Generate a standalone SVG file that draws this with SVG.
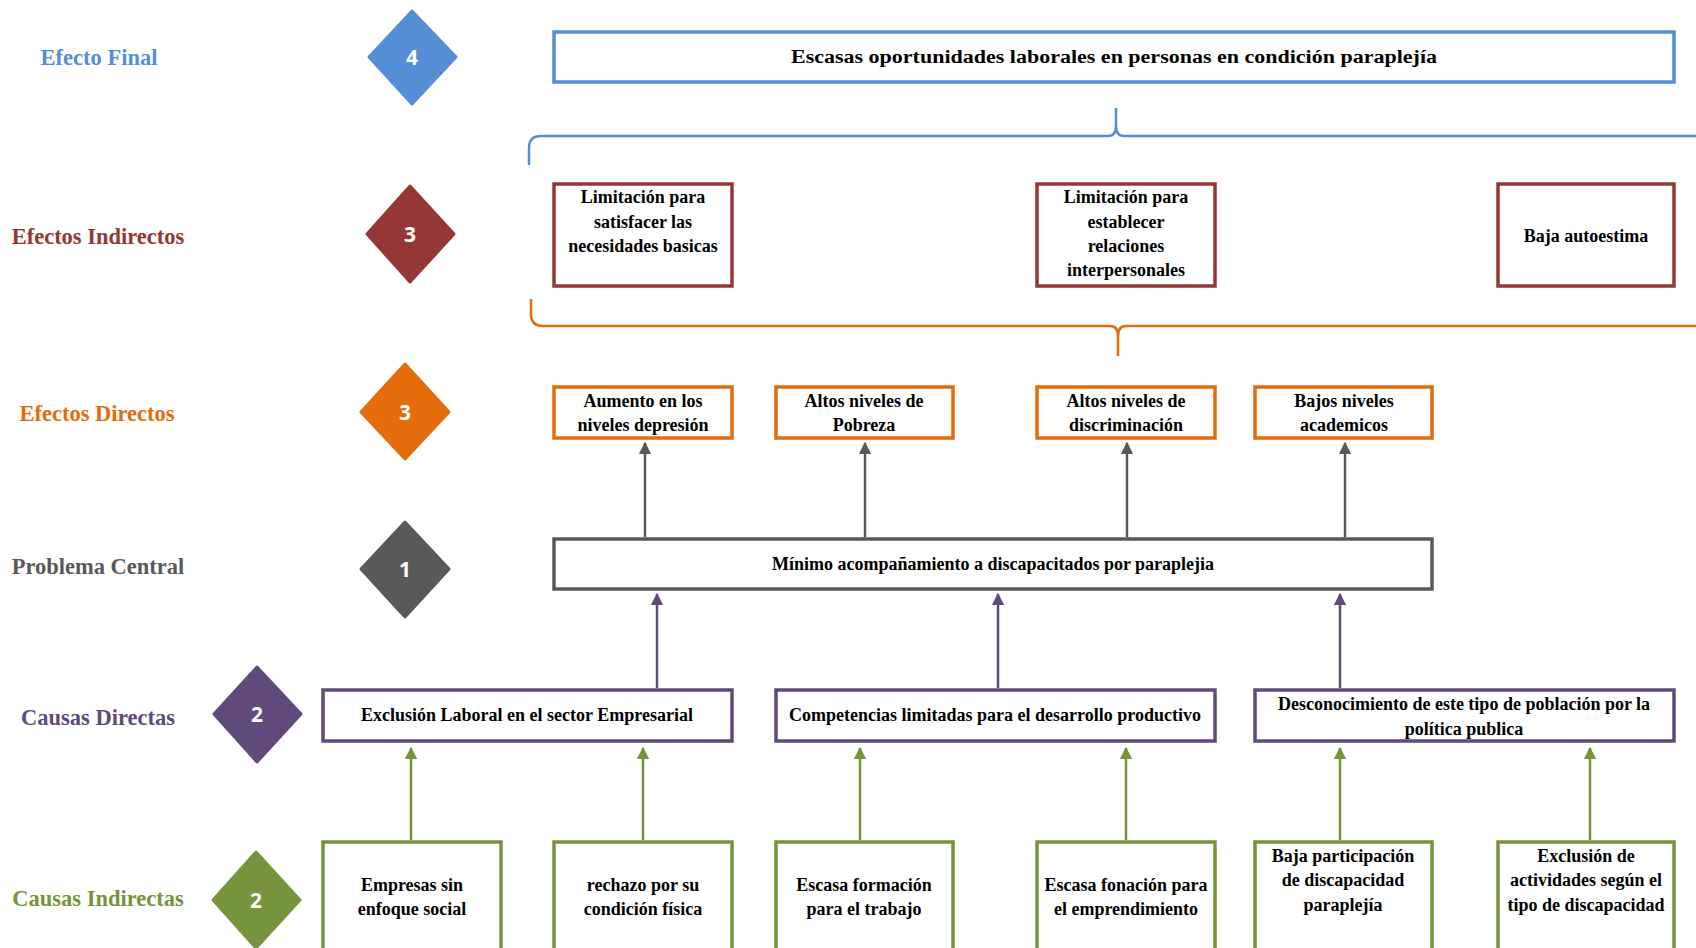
<svg xmlns="http://www.w3.org/2000/svg" width="1696" height="948" viewBox="0 0 1696 948">
<defs>
<marker id="mg" viewBox="0 0 10 10" refX="9" refY="5" markerWidth="5" markerHeight="5" orient="auto"><path d="M0,0 L10,5 L0,10 z" fill="#595959"/></marker>
<marker id="mp" viewBox="0 0 10 10" refX="9" refY="5" markerWidth="5" markerHeight="5" orient="auto"><path d="M0,0 L10,5 L0,10 z" fill="#604a7b"/></marker>
<marker id="mgr" viewBox="0 0 10 10" refX="9" refY="5" markerWidth="5" markerHeight="5" orient="auto"><path d="M0,0 L10,5 L0,10 z" fill="#77933c"/></marker>
</defs>
<style>
.lbl{font-family:"Liberation Serif","Times New Roman",serif;font-weight:bold;font-size:22.5px;text-anchor:middle;dominant-baseline:central}
.num{font-family:"Open Sans","DejaVu Sans",sans-serif;font-weight:bold;font-size:21px;fill:#fff;text-anchor:middle;dominant-baseline:central}
.t{font-family:"Liberation Serif","Times New Roman",serif;font-weight:bold;font-size:18px;fill:#000;text-anchor:middle;dominant-baseline:central}
.box{fill:#fff;stroke-width:3.5}
.blue{stroke:#558ed5}.red{stroke:#953735}.org{stroke:#e46c0a}.gry{stroke:#595959}.pur{stroke:#604a7b}.grn{stroke:#77933c}
.ag{stroke:#595959;stroke-width:2.5;fill:none;marker-end:url(#mg)}
.ap{stroke:#604a7b;stroke-width:2.5;fill:none;marker-end:url(#mp)}
.agr{stroke:#77933c;stroke-width:2.5;fill:none;marker-end:url(#mgr)}
</style>
<rect width="1696" height="948" fill="#fff"/>

<g id="labels">
<text class="lbl" x="99" y="57" fill="#558ed5">Efecto Final</text>
<text class="lbl" x="98" y="236" fill="#953735">Efectos Indirectos</text>
<text class="lbl" x="97" y="413" fill="#e46c0a">Efectos Directos</text>
<text class="lbl" x="98" y="566" fill="#595959">Problema Central</text>
<text class="lbl" x="98" y="717" fill="#604a7b">Causas Directas</text>
<text class="lbl" x="98" y="898" fill="#77933c">Causas Indirectas</text>
</g>

<g id="diamonds" stroke-linejoin="round">
<g id="d4"><polygon points="412,11 456,57 412,104 369,57" fill="#558ed5" stroke="#558ed5" stroke-width="3"/><text class="num" x="412" y="57">4</text></g>
<g id="d3a"><polygon points="410,186 454,234 410,282 367,234" fill="#953735" stroke="#953735" stroke-width="3"/><text class="num" x="410" y="234">3</text></g>
<g id="d3b"><polygon points="405,364 449,412 405,459 361,412" fill="#e46c0a" stroke="#e46c0a" stroke-width="3"/><text class="num" x="405" y="412">3</text></g>
<g id="d1"><polygon points="405,522 449,569 405,617 361,569" fill="#595959" stroke="#595959" stroke-width="3"/><text class="num" x="405" y="569">1</text></g>
<g id="d2a"><polygon points="257,667 301,714 257,762 214,714" fill="#604a7b" stroke="#604a7b" stroke-width="3"/><text class="num" x="257" y="714">2</text></g>
<g id="d2b"><polygon points="256,852 300,900 256,948 213,900" fill="#77933c" stroke="#77933c" stroke-width="3"/><text class="num" x="256" y="900">2</text></g>
</g>

<g id="connectors">
<path d="M529,165 L529,148 Q529,136 541,136 L1108,136 Q1116,136 1116,126 L1116,108 M1116,126 Q1116,136 1124,136 L1696,136" fill="none" stroke="#558ed5" stroke-width="2.5"/>
<path d="M531,299 L531,314 Q531,326 543,326 L1110,326 Q1118,326 1118,336 L1118,356 M1118,336 Q1118,326 1126,326 L1696,326" fill="none" stroke="#e46c0a" stroke-width="2.5"/>
<line class="ag" x1="645" y1="537" x2="645" y2="443"/>
<line class="ag" x1="865" y1="537" x2="865" y2="443"/>
<line class="ag" x1="1127" y1="537" x2="1127" y2="443"/>
<line class="ag" x1="1345" y1="537" x2="1345" y2="443"/>
<line class="ap" x1="657" y1="688" x2="657" y2="594"/>
<line class="ap" x1="998" y1="688" x2="998" y2="594"/>
<line class="ap" x1="1340" y1="688" x2="1340" y2="594"/>
<line class="agr" x1="411" y1="840" x2="411" y2="748"/>
<line class="agr" x1="643" y1="840" x2="643" y2="748"/>
<line class="agr" x1="860" y1="840" x2="860" y2="748"/>
<line class="agr" x1="1126" y1="840" x2="1126" y2="748"/>
<line class="agr" x1="1340" y1="840" x2="1340" y2="748"/>
<line class="agr" x1="1590" y1="840" x2="1590" y2="748"/>
</g>

<g id="final"><rect class="box blue" x="554" y="32" width="1120" height="50"/><text class="t" x="1114" y="57" font-size="23" textLength="646" lengthAdjust="spacingAndGlyphs">Escasas oportunidades laborales en personas en condición paraplejía</text></g>

<g id="ei1"><rect class="box red" x="554" y="184" width="178" height="102"/>
<text class="t" x="643" y="197">Limitación para</text><text class="t" x="643" y="222">satisfacer las</text><text class="t" x="643" y="246">necesidades basicas</text></g>
<g id="ei2"><rect class="box red" x="1037" y="184" width="178" height="102"/>
<text class="t" x="1126" y="197">Limitación para</text><text class="t" x="1126" y="222">establecer</text><text class="t" x="1126" y="246">relaciones</text><text class="t" x="1126" y="270">interpersonales</text></g>
<g id="ei3"><rect class="box red" x="1498" y="184" width="176" height="102"/><text class="t" x="1586" y="236">Baja autoestima</text></g>

<g id="ed1"><rect class="box org" x="554" y="387" width="178" height="51"/><text class="t" x="643" y="401">Aumento en los</text><text class="t" x="643" y="425">niveles depresión</text></g>
<g id="ed2"><rect class="box org" x="776" y="387" width="177" height="51"/><text class="t" x="864" y="401">Altos niveles de</text><text class="t" x="864" y="425">Pobreza</text></g>
<g id="ed3"><rect class="box org" x="1037" y="387" width="178" height="51"/><text class="t" x="1126" y="401">Altos niveles de</text><text class="t" x="1126" y="425">discriminación</text></g>
<g id="ed4"><rect class="box org" x="1255" y="387" width="177" height="51"/><text class="t" x="1344" y="401">Bajos niveles</text><text class="t" x="1344" y="425">academicos</text></g>

<g id="central"><rect class="box gry" x="554" y="539" width="878" height="50"/><text class="t" x="993" y="564">Mínimo acompañamiento a discapacitados por paraplejia</text></g>

<g id="cd1"><rect class="box pur" x="323" y="690" width="409" height="51"/><text class="t" x="527" y="715">Exclusión Laboral en el sector Empresarial</text></g>
<g id="cd2"><rect class="box pur" x="776" y="690" width="439" height="51"/><text class="t" x="995" y="715">Competencias limitadas para el desarrollo productivo</text></g>
<g id="cd3"><rect class="box pur" x="1255" y="690" width="419" height="51"/><text class="t" x="1464" y="704">Desconocimiento de este tipo de población por la</text><text class="t" x="1464" y="729">política publica</text></g>

<g id="ci1"><rect class="box grn" x="323" y="842" width="178" height="120"/><text class="t" x="412" y="885">Empresas sin</text><text class="t" x="412" y="909">enfoque social</text></g>
<g id="ci2"><rect class="box grn" x="554" y="842" width="178" height="120"/><text class="t" x="643" y="885">rechazo por su</text><text class="t" x="643" y="909">condición física</text></g>
<g id="ci3"><rect class="box grn" x="776" y="842" width="177" height="120"/><text class="t" x="864" y="885">Escasa formación</text><text class="t" x="864" y="909">para el trabajo</text></g>
<g id="ci4"><rect class="box grn" x="1037" y="842" width="178" height="120"/><text class="t" x="1126" y="885">Escasa fonación para</text><text class="t" x="1126" y="909">el emprendimiento</text></g>
<g id="ci5"><rect class="box grn" x="1255" y="842" width="177" height="120"/><text class="t" x="1343" y="856">Baja participación</text><text class="t" x="1343" y="880">de discapacidad</text><text class="t" x="1343" y="905">paraplejía</text></g>
<g id="ci6"><rect class="box grn" x="1498" y="842" width="176" height="120"/><text class="t" x="1586" y="856">Exclusión  de</text><text class="t" x="1586" y="880">actividades según el</text><text class="t" x="1586" y="905">tipo de discapacidad</text></g>
</svg>
